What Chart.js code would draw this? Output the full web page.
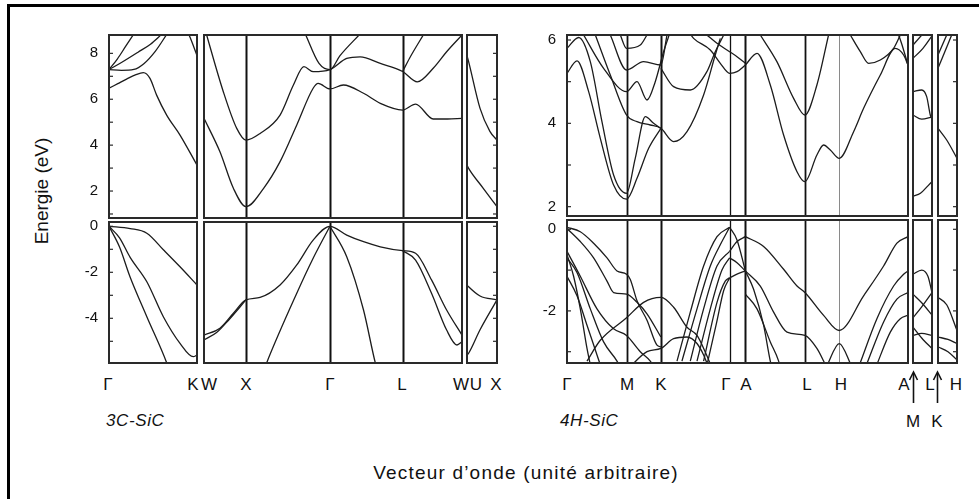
<!DOCTYPE html>
<html lang="fr">
<head>
<meta charset="utf-8">
<title>Structure de bandes 3C-SiC / 4H-SiC</title>
<script src="https://cdn.jsdelivr.net/npm/chart.js@4.4.1/dist/chart.umd.min.js"></script>
<style>
  body { margin: 0; background: #fff; font-family: "Liberation Sans", Arial, sans-serif; color: #111; }
  #fig { position: relative; width: 979px; height: 499px; overflow: hidden; }
  #fig canvas { position: absolute; }
  .frame { position: absolute; left: 7px; top: 4px; width: 990px; height: 510px; border-left: 3px solid #000; border-top: 3px solid #000; }
  .t { position: absolute; transform: translate(-50%, -50%); white-space: nowrap; line-height: 1; }
  .pt { font-size: 17px; top: 384px; }
  .nom { position: absolute; font-size: 17px; font-style: italic; top: 420px; transform: translateY(-50%); line-height: 1; letter-spacing: 0.6px; }
  .ax { font-size: 19px; }
</style>
</head>
<body>
<div id="fig">
  <div class="frame"></div>

  <div class="t ax" style="left:41px;top:191px;transform:translate(-50%,-50%) rotate(-90deg)">Energie (eV)</div>
  <div class="t ax" style="left:526px;top:472px;letter-spacing:1.2px">Vecteur d’onde (unité arbitraire)</div>

  <!-- points de haute symétrie, 3C -->
  <div class="t pt" style="left:108px">Γ</div>
  <div class="t pt" style="left:193px">K</div>
  <div class="t pt" style="left:209px">W</div>
  <div class="t pt" style="left:246px">X</div>
  <div class="t pt" style="left:330px">Γ</div>
  <div class="t pt" style="left:402px">L</div>
  <div class="t pt" style="left:461px">W</div>
  <div class="t pt" style="left:476px">U</div>
  <div class="t pt" style="left:496px">X</div>
  <div class="nom" style="left:106px">3C-SiC</div>

  <!-- points de haute symétrie, 4H -->
  <div class="t pt" style="left:567px">Γ</div>
  <div class="t pt" style="left:627px">M</div>
  <div class="t pt" style="left:661px">K</div>
  <div class="t pt" style="left:726px">Γ</div>
  <div class="t pt" style="left:746px">A</div>
  <div class="t pt" style="left:807px">L</div>
  <div class="t pt" style="left:841px">H</div>
  <div class="t pt" style="left:904px">A</div>
  <div class="t pt" style="left:930px">L</div>
  <div class="t pt" style="left:956px">H</div>
  <div class="t" style="left:913px;top:421px;font-size:17px">M</div>
  <div class="t" style="left:937px;top:421px;font-size:17px">K</div>
  <div class="nom" style="left:560px">4H-SiC</div>

  <svg width="979" height="499" style="position:absolute;left:0;top:0;pointer-events:none">
    <g stroke="#111" stroke-width="1.6" fill="none">
      <line x1="913.5" y1="403" x2="913.5" y2="373"/>
      <polyline points="909.5,380 913.5,372 917.5,380"/>
      <line x1="937.5" y1="403" x2="937.5" y2="373"/>
      <polyline points="933.5,380 937.5,372 941.5,380"/>
    </g>
  </svg>
</div>

<script>
// ---- 3C-SiC : k en unités 2π/a, segments Γ-K | W-X-Γ-L-W | U-X ----
const len3C = [1.0607, 3.073, 0.354];
const sym3C = [0.5, 1.5, 2.366];            // X, Γ, L sur W-X-Γ-L-W
const cbRange3C = [0.825, 8.8];
const vbRange3C = [-5.943, 0.187];

const cb3C_GK = [
  [[0,6.48],[.106,6.68],[.212,6.88],[.318,7.06],[.414,7.16],[.494,6.91],[.574,6.18],[.695,5.31],[.856,4.44],[1.0607,3.13]],
  [[0,7.29],[.15,7.26],[.3,7.3],[.42,7.55],[.56,8.1],[.7,8.85]],
  [[0,7.29],[.15,7.6],[.35,8.05],[.5,8.4],[.64,8.85]],
  [[0,7.29],[.1,7.75],[.2,8.3],[.3,8.85]],
  [[.96,8.85],[1.01,8.4],[1.0607,7.9]]
];
const vb3C_GK = [
  [[0,0],[.255,-0.1],[.456,-0.3],[.658,-1.03],[.856,-1.76],[1.0607,-2.55]],
  [[0,0],[.127,-0.5],[.255,-1.35],[.456,-2.41],[.655,-3.93],[.856,-5.09],[1.016,-5.67],[1.0607,-5.6]],
  [[0,0],[.127,-0.9],[.253,-2.19],[.456,-3.93],[.695,-5.93],[.72,-6.2]]
];

const cb3C_WXGLW = [
  [[0,5.17],[.19,3.71],[.35,2.12],[.5,1.32],[.71,2.12],[.906,3.28],[1.105,4.88],[1.3,6.48],[1.36,6.69],[1.5,6.45],[1.66,6.62],[1.9,6.26],[2.1,5.82],[2.366,5.53],[2.52,5.79],[2.73,5.14],[2.9,5.14],[3.073,5.17]],
  [[0,9.2],[.23,6.33],[.39,4.73],[.5,4.22],[.668,4.51],[.906,5.31],[1.065,6.62],[1.19,7.42],[1.3,7.2],[1.5,7.29],[1.7,7.78],[1.86,7.85],[2.1,7.56],[2.366,7.21],[2.54,6.76],[2.73,7.35],[2.89,8.07],[3.073,8.8]],
  [[1.2,8.9],[1.37,7.56],[1.5,7.29],[1.62,7.9],[1.86,8.85]],
  [[2.366,7.21],[2.45,7.8],[2.62,8.85]]
];
const vb3C_WXGLW = [
  [[0,-4.73],[.19,-4.43],[.35,-3.78],[.5,-3.2],[.668,-3.09],[.906,-2.55],[1.105,-1.68],[1.3,-0.6],[1.5,0],[1.7,-0.38],[1.9,-0.67],[2.1,-0.89],[2.366,-1.06],[2.52,-1.17],[2.71,-2.33],[2.89,-3.64],[3.073,-4.73]],
  [[0,-4.94],[.15,-4.62],[.3,-4.05],[.5,-3.2]],
  [[.72,-6.2],[.747,-5.93],[1.105,-2.91],[1.3,-1.39],[1.5,0]],
  [[1.5,0],[1.7,-1.32],[1.9,-3.64],[2.04,-5.93],[2.07,-6.3]],
  [[2.366,-1.06],[2.52,-1.47],[2.71,-2.91],[2.89,-4.51],[3.013,-5.16],[3.073,-5.02]]
];

const cb3C_UX = [
  [[0,7.9],[.019,7.64],[.154,5.6],[.27,4.6],[.354,4.22]],
  [[0,3.13],[.019,2.99],[.192,2.12],[.354,1.32]]
];
const vb3C_UX = [
  [[0,-2.55],[.019,-2.63],[.154,-3.03],[.354,-3.2]],
  [[0,-5.6],[.019,-5.52],[.154,-4.5],[.354,-3.2]]
];

// ---- 4H-SiC : Γ-M-K-Γ-A-L-H-A | M-L | K-H ----
const len4H = [3.3076, 0.1528, 0.1528];
const sym4H = [0.5774, 0.9107, 1.5774, 1.7302, 2.3076, 2.6409];   // M, K, Γ, A, L, H
const symWidth4H = [1.8, 2, 1.3, 2, 1.8, 1];
const cbRange4H = [1.776, 6.12];
const vbRange4H = [-3.277, 0.228];

const cb4H_main = [
  [[0,5.2],[.097,5.5],[.21,4.76],[.323,3.64],[.452,2.52],[.5774,2.18],[.679,2.68],[.792,3.4],[.9107,3.88]],
  [[0,5.8],[.113,6.06],[.226,5.48],[.339,4.04],[.452,2.76],[.5774,2.32],[.662,3.16],[.76,4.16],[.84,4.0],[.9107,3.88]],
  [[.161,6.12],[.355,5.32],[.5774,4.76],[.679,5.0],[.776,4.56],[.856,5.0],[.937,5.72],[1.002,6.2]],
  [[.275,6.12],[.42,5.16],[.5774,4.2],[.679,4.04],[.808,3.96],[.9107,3.88],[1.034,3.56],[1.164,3.8],[1.325,4.68],[1.438,5.64],[1.487,6.04]],
  [[.42,6.12],[.5774,5.28],[.743,5.48],[.9107,5.4],[.97,6.12]],
  [[.517,6.12],[.5774,5.8],[.711,5.88],[.776,6.12]],
  [[.9107,5.32],[1.034,4.88],[1.196,4.8],[1.357,5.24],[1.438,5.72],[1.487,5.96],[1.52,6.12]],
  [[1.18,6.2],[1.228,6.04],[1.39,5.76],[1.487,5.44],[1.5774,5.2],[1.649,5.24],[1.7302,5.4]],
  [[1.357,6.12],[1.455,5.92],[1.5774,5.72],[1.649,5.6],[1.7302,5.44]],
  [[1.7302,5.4],[1.843,5.68],[1.972,4.92],[2.101,3.72],[2.231,2.84],[2.3076,2.6],[2.424,3.24],[2.489,3.48],[2.554,3.36],[2.6409,3.16],[2.78,3.8],[2.877,4.36],[3.039,5.16],[3.184,5.8],[3.265,5.64],[3.3076,5.4]],
  [[1.875,6.12],[2.036,5.48],[2.198,4.6],[2.3076,4.2],[2.424,4.92],[2.537,6.12]],
  [[2.748,6.12],[2.845,5.72],[2.926,5.44],[3.039,5.52],[3.168,5.8],[3.233,6.12]],
  [[3.217,6.12],[3.25,5.88],[3.3076,5.4]]
];
const vb4H_main = [
  [[0,0.05],[.129,-0.06],[.258,-0.34],[.388,-0.7],[.485,-1.02],[.5774,-1.1],[.614,-1.23],[.679,-1.75],[.776,-2.23],[.873,-2.84],[.9107,-2.88]],
  [[0,0.02],[.129,-0.3],[.258,-0.7],[.388,-1.27],[.452,-1.55],[.5774,-1.59],[.679,-1.79],[.776,-2.07],[.9107,-2.64]],
  [[.194,-3.23],[.323,-2.72],[.5774,-2.17],[.743,-1.79],[.9107,-1.67],[1.034,-1.91],[1.164,-2.4],[1.261,-2.6],[1.34,-3.0],[1.39,-3.3]],
  [[0,-0.54],[.129,-1.15],[.291,-1.95],[.452,-2.44],[.5774,-2.6],[.711,-3.0],[.808,-3.23],[.85,-3.4]],
  [[0,-0.7],[.097,-1.06],[.226,-1.95],[.355,-2.76],[.485,-3.23],[.52,-3.4]],
  [[0,-1.15],[.097,-1.63],[.194,-2.35],[.291,-3.08],[.323,-3.32]],
  [[0,-0.62],[.064,-1.15],[.129,-1.95],[.194,-2.92],[.226,-3.32]],
  [[.6,-3.4],[.776,-3.0],[.9107,-2.92],[1.034,-2.68],[1.164,-2.64],[1.261,-2.8],[1.325,-3.08],[1.36,-3.3]],
  [[1.067,-3.23],[1.196,-2.03],[1.325,-0.9],[1.455,-0.18],[1.5774,0.05]],
  [[1.115,-3.23],[1.261,-1.95],[1.39,-0.9],[1.503,-0.3],[1.5774,0.05]],
  [[1.196,-3.23],[1.325,-1.95],[1.455,-0.9],[1.5774,-0.54]],
  [[1.261,-3.23],[1.39,-1.95],[1.503,-1.0],[1.5774,-0.7]],
  [[1.325,-3.23],[1.455,-1.79],[1.535,-1.27],[1.5774,-1.19]],
  [[1.36,-3.3],[1.45,-2.3],[1.52,-1.5],[1.5774,-1.19]],
  [[1.5774,0.05],[1.649,-0.26],[1.7302,-1.02]],
  [[1.5774,-0.54],[1.649,-0.3],[1.7302,-0.18]],
  [[1.5774,-0.7],[1.649,-0.82],[1.7302,-1.02]],
  [[1.5774,-1.19],[1.649,-1.1],[1.7302,-1.02]],
  [[1.7302,-0.18],[1.907,-0.42],[2.101,-0.98],[2.231,-1.39],[2.3076,-1.55],[2.489,-2.11],[2.6409,-2.48],[2.877,-1.63],[3.071,-0.9],[3.2,-0.34],[3.3076,-0.18]],
  [[1.7302,-1.02],[1.875,-1.39],[2.004,-2.03],[2.134,-2.52],[2.3076,-2.6],[2.424,-2.92],[2.489,-3.23],[2.52,-3.4]],
  [[1.7302,-1.59],[1.843,-1.95],[1.972,-2.76],[2.053,-3.23],[2.07,-3.4]],
  [[1.7302,-1.02],[1.81,-1.47],[1.907,-2.35],[1.972,-3.23],[1.99,-3.4]],
  [[2.52,-3.35],[2.6409,-2.8],[2.76,-3.35]],
  [[2.84,-3.3],[3.006,-2.19],[3.168,-1.39],[3.265,-1.1],[3.3076,-1.02]],
  [[2.9,-3.35],[3.071,-2.27],[3.2,-1.71],[3.3076,-1.55]],
  [[3.0,-3.35],[3.136,-2.52],[3.233,-2.19],[3.3076,-2.11]]
];

const cb4H_ML = [
  [[0,2.25],[.06,2.32],[.12,2.5],[.1528,2.6]],
  [[0,4.76],[.07,4.8],[.11,4.64],[.139,4.2],[.1528,4.1]],
  [[0,4.2],[.07,4.1],[.1528,4.15]],
  [[0,5.56],[.08,5.8],[.1528,6.1]],
  [[0,5.88],[.08,6.15]]
];
const vb4H_ML = [
  [[0,-1.1],[.07,-1.0],[.12,-1.15],[.1528,-1.55]],
  [[0,-1.59],[.07,-1.8],[.1528,-2.1]],
  [[0,-2.17],[.07,-1.9],[.1528,-1.55]],
  [[0,-2.6],[.07,-2.55],[.1528,-2.6]],
  [[0,-2.4],[.08,-2.7],[.1528,-2.92]]
];
const cb4H_KH = [
  [[0,3.88],[.07,3.6],[.1528,3.16]],
  [[0,5.32],[.055,5.72],[.11,6.12]],
  [[0,5.64],[.07,6.12]]
];
const vb4H_KH = [
  [[0,-1.67],[.07,-1.85],[.1528,-2.48]],
  [[0,-2.64],[.08,-2.7],[.1528,-2.8]],
  [[0,-2.88],[.08,-3.0],[.1528,-3.2]]
];

// cadre, lignes de symétrie et petites graduations internes
const boxPlugin = {
  id: 'box',
  beforeDatasetsDraw(chart, args, opts) {
    const { ctx, chartArea: a, scales: { x } } = chart;
    ctx.save();
    (opts.sym || []).forEach(s => {
      const px = Math.round(x.getPixelForValue(s.k)) + 0.5;
      ctx.strokeStyle = s.color || '#111';
      ctx.lineWidth = s.width || 2;
      ctx.beginPath();
      ctx.moveTo(px, a.top);
      ctx.lineTo(px, a.bottom);
      ctx.stroke();
    });
    ctx.restore();
  },
  afterDatasetsDraw(chart, args, opts) {
    const { ctx, chartArea: a, scales: { y } } = chart;
    ctx.save();
    ctx.strokeStyle = '#2a2a2a';
    ctx.lineWidth = 1.2;
    for (let v = Math.ceil(y.min); v <= Math.floor(y.max); v++) {
      const py = y.getPixelForValue(v);
      ctx.beginPath();
      if (opts.tickLeft) { ctx.moveTo(a.left, py); ctx.lineTo(a.left + 4, py); }
      if (opts.tickRight) { ctx.moveTo(a.right - 4, py); ctx.lineTo(a.right, py); }
      ctx.stroke();
    }
    ctx.lineWidth = 2;
    ctx.strokeRect(a.left, a.top, a.width, a.height);
    ctx.restore();
  }
};

const fig = document.getElementById('fig');

function panel(left, top, w, h, xMax, yRange, bands, box, labelled) {
  const pad = 2, axisW = labelled ? 50 : 0;
  const cv = document.createElement('canvas');
  cv.width = w + 2 * pad + axisW;
  cv.height = h + 2 * pad;
  cv.style.left = (left - pad - axisW) + 'px';
  cv.style.top = (top - pad) + 'px';
  fig.appendChild(cv);

  new Chart(cv, {
    type: 'line',
    data: {
      datasets: bands.map(b => ({
        data: b.map(([x, y]) => ({ x, y })),
        borderColor: '#1c1c1c',
        borderWidth: 1.3,
        pointRadius: 0,
        fill: false,
        cubicInterpolationMode: 'monotone'
      }))
    },
    options: {
      responsive: false,
      animation: false,
      devicePixelRatio: 1,
      events: [],
      layout: { padding: pad },
      scales: {
        x: { type: 'linear', min: 0, max: xMax, display: false },
        y: {
          type: 'linear', min: yRange[0], max: yRange[1],
          display: !!labelled,
          // largeur fixe, sans marge due aux étiquettes extrêmes
          afterFit: s => { s.width = axisW; s.paddingTop = 0; s.paddingBottom = 0; },
          grid: { display: false, drawTicks: false },
          border: { display: false },
          ticks: {
            stepSize: 1, includeBounds: false, autoSkip: false, padding: 11,
            color: '#111', font: { family: 'Liberation Sans', size: 15 },
            callback: v => (v % 2 === 0 ? String(v) : '')
          }
        }
      },
      plugins: { legend: { display: false }, tooltip: { enabled: false }, box }
    },
    plugins: [boxPlugin]
  });
}

const sym3CStyle = sym3C.map(k => ({ k, width: 2, color: '#111' }));
const sym4HStyle = sym4H.map((k, i) => ({ k, width: symWidth4H[i], color: i === 5 ? '#8a8a8a' : '#111' }));

// 3C-SiC
panel(109, 35, 88, 183, len3C[0], cbRange3C, cb3C_GK, { tickLeft: true }, true);
panel(109, 222, 88, 141, len3C[0], vbRange3C, vb3C_GK, { tickLeft: true }, true);
panel(204, 35, 258, 183, len3C[1], cbRange3C, cb3C_WXGLW, { sym: sym3CStyle });
panel(204, 222, 258, 141, len3C[1], vbRange3C, vb3C_WXGLW, { sym: sym3CStyle });
panel(467, 35, 30, 183, len3C[2], cbRange3C, cb3C_UX, { tickRight: true });
panel(467, 222, 30, 141, len3C[2], vbRange3C, vb3C_UX, { tickRight: true });

// 4H-SiC
panel(567, 35, 341, 181, len4H[0], cbRange4H, cb4H_main, { sym: sym4HStyle, tickLeft: true }, true);
panel(567, 220, 341, 143, len4H[0], vbRange4H, vb4H_main, { sym: sym4HStyle, tickLeft: true }, true);
panel(913, 35, 19, 181, len4H[1], cbRange4H, cb4H_ML, {});
panel(913, 220, 19, 143, len4H[1], vbRange4H, vb4H_ML, {});
panel(938, 35, 19, 181, len4H[2], cbRange4H, cb4H_KH, { tickRight: true });
panel(938, 220, 19, 143, len4H[2], vbRange4H, vb4H_KH, { tickRight: true });
</script>
</body>
</html>
